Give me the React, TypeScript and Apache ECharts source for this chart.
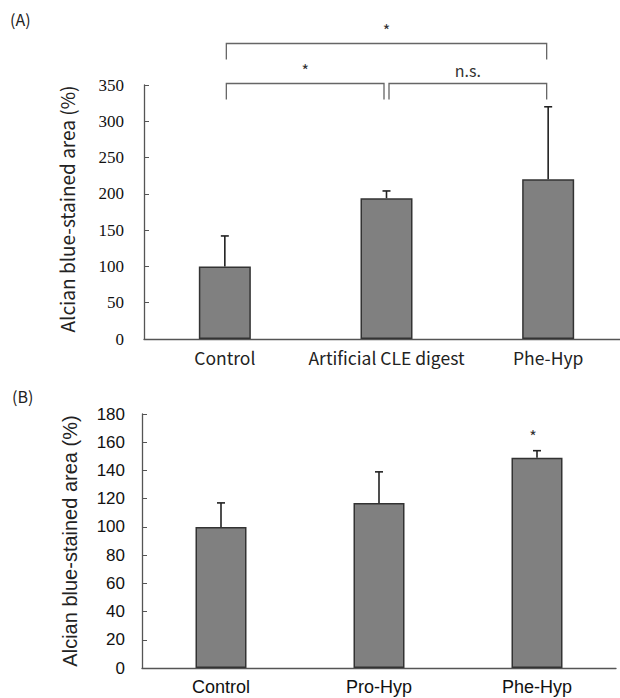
import React, { useEffect, useRef } from "react";
import * as echarts from "echarts";

const catsA = ["Control", "Artificial CLE digest", "Phe-Hyp"];
const meanA = [100, 194, 220];
const errTopA = [142, 204, 320];
const ticksA = { min: 0, max: 350, interval: 50 };

const catsB = ["Control", "Pro-Hyp", "Phe-Hyp"];
const meanB = [100, 117, 149];
const errTopB = [117, 139, 154];
const ticksB = { min: 0, max: 180, interval: 20 };
const starsB = ["", "", "*"];

// significance brackets in panel A: [from category, to category, label, level]
const bracketsA: [number, number, string, number][] = [
  [0, 1, "*", 0],
  [1, 2, "n.s.", 0],
  [0, 2, "*", 1],
];

const yTitle = "Alcian blue-stained area (%)";
const KR = "Noto Sans CJK KR, Noto Sans, sans-serif";
const ARIAL = "Liberation Sans, Arial, sans-serif";
const SERIF = "Liberation Serif, Times New Roman, serif";

function errorRender(stars?: string[]) {
  return (params: any, api: any) => {
    const x = api.value(0);
    const lo = api.value(1);
    const hi = api.value(2);
    const p1 = api.coord([x, lo]);
    const p2 = api.coord([x, hi]);
    const st = { stroke: "#222", lineWidth: 1.6 };
    const children: any[] = [
      { type: "line", shape: { x1: p1[0], y1: p1[1], x2: p2[0], y2: p2[1] }, style: st },
      { type: "line", shape: { x1: p2[0] - 4, y1: p2[1], x2: p2[0] + 4, y2: p2[1] }, style: st },
    ];
    const s = stars ? stars[params.dataIndex] : "";
    if (s) {
      children.push({
        type: "text",
        x: p2[0] - 4,
        y: p2[1] - 7,
        style: { text: s, fill: "#333", font: `16px ${KR}`, align: "center", verticalAlign: "bottom" },
      });
    }
    return { type: "group", children };
  };
}

export default function App() {
  const ref = useRef<HTMLDivElement>(null);
  useEffect(() => {
    document.body.style.margin = "0";
    const chart = echarts.init(ref.current!, undefined, { renderer: "svg" });
    const axisLine = { show: true, lineStyle: { color: "#555", width: 1.3 } };
    const option: any = {
      animation: false,
      backgroundColor: "#fff",
      graphic: [
        { type: "text", left: 10, top: 11, style: { text: "(A)", font: `16px ${KR}`, fill: "#222" } },
        { type: "text", left: 12, top: 388, style: { text: "(B)", font: `16px ${KR}`, fill: "#222" } },
      ],
      grid: [
        { left: 144, top: 85, width: 485, height: 254, outerBoundsMode: "none", containLabel: false },
        { left: 142, top: 414, width: 474, height: 254, outerBoundsMode: "none", containLabel: false },
      ],
      xAxis: [
        {
          type: "category",
          gridIndex: 0,
          data: catsA,
          axisLine,
          axisTick: { show: false },
          axisLabel: { color: "#222", fontFamily: KR, fontSize: 17.5, margin: 10, interval: 0 },
        },
        {
          type: "category",
          gridIndex: 1,
          data: catsB,
          axisLine,
          axisTick: { show: false },
          axisLabel: { color: "#111", fontFamily: ARIAL, fontSize: 18, margin: 10, interval: 0 },
        },
      ],
      yAxis: [
        {
          type: "value",
          gridIndex: 0,
          ...ticksA,
          axisLine,
          axisTick: { show: true, inside: true, length: 5, lineStyle: { color: "#555" } },
          splitLine: { show: false },
          axisLabel: { color: "#111", fontFamily: SERIF, fontSize: 17, margin: 20 },
          name: yTitle,
          nameLocation: "middle",
          nameGap: 68,
          nameTextStyle: { color: "#222", fontFamily: KR, fontSize: 19, padding: [0, 0, 0, 6] },
        },
        {
          type: "value",
          gridIndex: 1,
          ...ticksB,
          axisLine,
          axisTick: { show: true, inside: true, length: 5, lineStyle: { color: "#555" } },
          splitLine: { show: false },
          axisLabel: { color: "#111", fontFamily: ARIAL, fontSize: 17, margin: 17 },
          name: yTitle,
          nameLocation: "middle",
          nameGap: 62,
          nameTextStyle: { color: "#222", fontFamily: ARIAL, fontSize: 20 },
        },
      ],
      series: [
        {
          type: "bar",
          xAxisIndex: 0,
          yAxisIndex: 0,
          data: meanA,
          barWidth: 52,
          itemStyle: { color: "#808080", borderColor: "#333", borderWidth: 1.5 },
        },
        {
          type: "custom",
          xAxisIndex: 0,
          yAxisIndex: 0,
          z: 5,
          clip: false,
          data: meanA.map((m, i) => [i, m, errTopA[i]]),
          encode: { x: 0, y: [1, 2] },
          renderItem: errorRender(),
        },
        {
          type: "custom",
          xAxisIndex: 0,
          yAxisIndex: 0,
          z: 5,
          clip: false,
          data: bracketsA.map((b) => [b[0], b[1], b[3]]),
          encode: { x: [0, 1] },
          renderItem: (params: any, api: any) => {
            const i0 = api.value(0);
            const i1 = api.value(1);
            const lvl = api.value(2);
            const label = bracketsA[params.dataIndex][2];
            const cs = params.coordSys;
            const xa = api.coord([i0, 0])[0];
            const xb = api.coord([i1, 0])[0];
            const shareL = bracketsA.some((o, k) => k !== params.dataIndex && o[3] === lvl && o[1] === i0);
            const shareR = bracketsA.some((o, k) => k !== params.dataIndex && o[3] === lvl && o[0] === i1);
            const x1 = xa + (shareL ? 2.5 : 1.5);
            const x2 = xb - (shareR ? 2.5 : 1.5);
            const y = cs.y - 1.5 - lvl * 40;
            const st = { stroke: "#666", lineWidth: 1.3, fill: "none" };
            return {
              type: "group",
              children: [
                {
                  type: "polyline",
                  shape: { points: [[x1, y + 16], [x1, y], [x2, y], [x2, y + 16]] },
                  style: st,
                },
                {
                  type: "text",
                  x: (x1 + x2) / 2,
                  y: y - 6,
                  style: {
                    text: label,
                    fill: "#333",
                    font: `16px ${KR}`,
                    align: "center",
                    verticalAlign: "bottom",
                  },
                },
              ],
            };
          },
        },
        {
          type: "bar",
          xAxisIndex: 1,
          yAxisIndex: 1,
          data: meanB,
          barWidth: 51,
          itemStyle: { color: "#808080", borderColor: "#333", borderWidth: 1.5 },
        },
        {
          type: "custom",
          xAxisIndex: 1,
          yAxisIndex: 1,
          z: 5,
          clip: false,
          data: meanB.map((m, i) => [i, m, errTopB[i]]),
          encode: { x: 0, y: [1, 2] },
          renderItem: errorRender(starsB),
        },
      ],
    };
    chart.setOption(option);
    return () => chart.dispose();
  }, []);
  return <div ref={ref} style={{ width: 620, height: 698 }} />;
}
